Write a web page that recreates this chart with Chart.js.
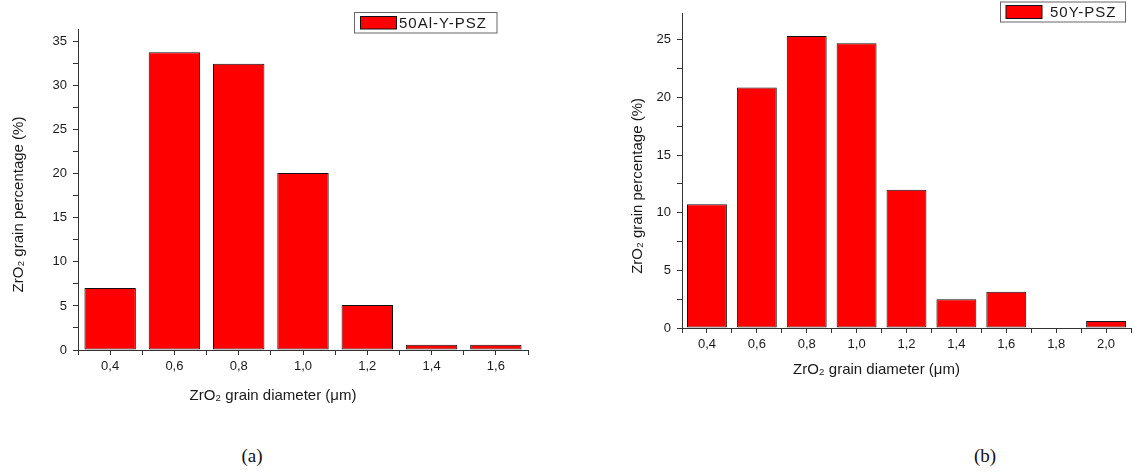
<!DOCTYPE html>
<html>
<head>
<meta charset="utf-8">
<script src="https://cdn.jsdelivr.net/npm/chart.js@4.4.1/dist/chart.umd.min.js"></script>
<style>
  body { margin: 0; background: #fff; width: 1135px; height: 473px; position: relative; overflow: hidden; }
  .box { position: absolute; top: 0; height: 420px; }
  .caption { position: absolute; top: 445px; font-family: "Liberation Serif", "Times New Roman", serif; font-size: 19px; color: #111; transform: translateX(-50%); }
</style>
</head>
<body>
<div class="box" style="left:0; width:560px;"><canvas id="chartA"></canvas></div>
<div class="box" style="left:580px; width:555px;"><canvas id="chartB"></canvas></div>
<div class="caption" style="left:252px;">(a)</div>
<div class="caption" style="left:985px;">(b)</div>

<script>
// chart (a) - 50Al-Y-PSZ
const diametersA = [0.4, 0.6, 0.8, 1.0, 1.2, 1.4, 1.6];
const percentA = [7.05, 33.8, 32.5, 20.1, 5.1, 0.6, 0.6];
const labelA = '50Al-Y-PSZ';

// chart (b) - 50Y-PSZ
const diametersB = [0.4, 0.6, 0.8, 1.0, 1.2, 1.4, 1.6, 1.8, 2.0];
const percentB = [10.73, 20.86, 25.32, 24.69, 11.98, 2.49, 3.14, 0, 0.6];
const labelB = '50Y-PSZ';

// trailing em spaces push the centred titles a bit towards their start, like in the original
const xTitle = 'ZrO\u2082 grain diameter (\u03bcm)' + '\u2003\u2003\u2003\u2003';
const yTitle = 'ZrO\u2082 grain percentage (%)' + '\u2003\u2003';

const axisColor = '#333';
const textColor = '#1a1a1a';
const tickFont = { family: '"Liberation Sans", Arial, sans-serif', size: 13 };
const titleFont = { family: '"Liberation Sans", Arial, sans-serif', size: 15 };

// framed legend like the origin plot
const legendFrame = {
    id: 'legendFrame',
    afterDraw(chart, args, opts) {
        const ctx = chart.ctx;
        const ds = chart.data.datasets[0];
        ctx.save();
        ctx.fillStyle = '#fff';
        ctx.fillRect(opts.x, opts.y, opts.w, opts.h);
        ctx.strokeStyle = '#666';
        ctx.lineWidth = 1;
        ctx.strokeRect(opts.x, opts.y, opts.w, opts.h);
        ctx.fillStyle = ds.backgroundColor;
        ctx.fillRect(opts.x + opts.sx, opts.y + opts.sy, 36, opts.h - 2 * opts.sy);
        ctx.strokeStyle = ds.borderColor;
        ctx.strokeRect(opts.x + opts.sx, opts.y + opts.sy, 36, opts.h - 2 * opts.sy);
        ctx.font = '15px "Liberation Sans", Arial, sans-serif';
        ctx.letterSpacing = '1px';
        ctx.fillStyle = textColor;
        ctx.textBaseline = 'middle';
        ctx.fillText(ds.label, opts.x + opts.tx, opts.y + opts.h / 2 + 1);
        ctx.restore();
    }
};

function onStep(v, step) {
    return Math.abs(v / step - Math.round(v / step)) < 1e-6;
}

function makeChart(canvasId, diameters, percents, label, cfg) {
    return new Chart(document.getElementById(canvasId), {
        type: 'bar',
        data: {
            datasets: [{
                label: label,
                data: diameters.map((d, i) => ({ x: d, y: percents[i] })),
                backgroundColor: '#ff0000',
                borderColor: '#111',
                borderWidth: 1,
                borderSkipped: false,
                // the ruler takes the 0.1 minor tick spacing, bars are 0.16 wide
                barPercentage: 1.6,
                categoryPercentage: 1.0
            }]
        },
        options: {
            responsive: true,
            maintainAspectRatio: false,
            animation: false,
            layout: { padding: cfg.padding },
            plugins: {
                legend: { display: false },
                tooltip: { enabled: false },
                legendFrame: cfg.legend
            },
            scales: {
                x: {
                    type: 'linear',
                    offset: false,
                    min: 0.3,
                    max: cfg.xMax,
                    afterFit(scale) { scale.height = cfg.xHeight; },
                    border: { display: true, color: axisColor, width: 1 },
                    grid: { offset: false, drawOnChartArea: false, drawTicks: true, tickLength: 5, tickColor: axisColor },
                    ticks: {
                        stepSize: 0.1,
                        autoSkip: false,
                        maxRotation: 0,
                        padding: 4,
                        color: textColor,
                        font: tickFont,
                        callback: v => {
                            const n = Math.round(v * 10);
                            return n % 2 === 0 ? (n / 10).toFixed(1).replace('.', ',') : '';
                        }
                    },
                    title: { display: true, text: xTitle, color: textColor, font: titleFont, padding: { top: 0, bottom: cfg.xTitlePad } }
                },
                y: {
                    min: 0,
                    max: cfg.yMax,
                    afterFit(scale) { scale.width = cfg.yWidth; },
                    border: { display: true, color: axisColor, width: 1 },
                    grid: {
                        drawOnChartArea: false, drawTicks: true, tickLength: 5,
                        tickColor: c => (onStep(c.tick.value, 2.5) ? axisColor : 'rgba(0,0,0,0)')
                    },
                    ticks: {
                        stepSize: 2.5,
                        includeBounds: false,
                        autoSkip: false,
                        padding: 6,
                        color: textColor,
                        font: tickFont,
                        callback: v => (onStep(v, 5) ? String(Math.round(v)) : '')
                    },
                    title: { display: true, text: yTitle, color: textColor, font: titleFont, padding: { top: cfg.yTitlePad, bottom: 0 } }
                }
            }
        },
        plugins: [legendFrame]
    });
}

makeChart('chartA', diametersA, percentA, labelA, {
    padding: { top: 29, right: 32, bottom: 0, left: 0 },
    xMax: 1.7, yMax: 36.44,
    xHeight: 70, yWidth: 78,
    xTitlePad: 15, yTitlePad: 10,
    legend: { x: 354.5, y: 12.5, w: 142.5, h: 20.5, sx: 6, sy: 4, tx: 44.5 }
});

makeChart('chartB', diametersB, percentB, labelB, {
    padding: { top: 9, right: 3, bottom: 20, left: 0 },
    xMax: 2.1, yMax: 27.25,
    xHeight: 72, yWidth: 102,
    xTitlePad: 21, yTitlePad: 49,
    legend: { x: 420.5, y: 2, w: 125, h: 20, sx: 5.5, sy: 3.5, tx: 49.5 }
});
</script>
</body>
</html>
